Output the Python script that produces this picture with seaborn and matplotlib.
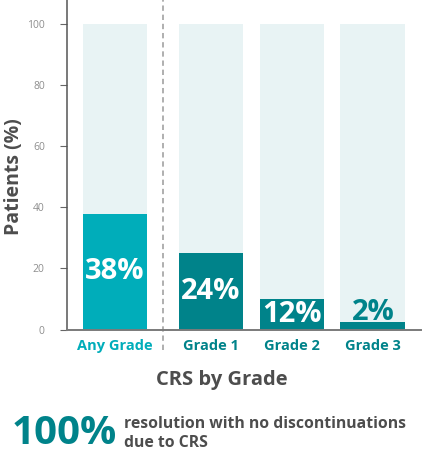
import numpy as np
import pandas as pd
import seaborn as sns
import matplotlib.pyplot as plt

# values
categories = ["Any Grade", "Grade 1", "Grade 2", "Grade 3"]
bar_heights = [37.7, 25.0, 10.1, 2.4]
value_labels = ["38%", "24%", "12%", "2%"]
full_scale = [100, 100, 100, 100]
y_ticks = [0, 20, 40, 60, 80, 100]

# colours
cyan = "#00ADBA"
teal = "#00838A"
track = "#E8F3F4"
dark_text = "#4D4D4D"
bar_colors = [cyan, teal, teal, teal]

sns.set_style("white")
plt.rcParams["font.family"] = ["Open Sans", "DejaVu Sans"]

# first bar stands apart, the grades are grouped after a gap
gap = 0.185
positions = [0.0] + [1.0 + gap + i for i in range(len(categories) - 1)]
sep_x = 0.593

df = pd.DataFrame({"pos": positions, "cat": categories,
                   "value": bar_heights, "full": full_scale})

fig = plt.figure(figsize=(4.22, 4.54), dpi=100)
ax = fig.add_axes([67 / 422, 124.5 / 454, (421 - 67) / 422, 329.5 / 454])

sns.barplot(data=df, x="pos", y="full", native_scale=True, color=track,
            saturation=1, width=0.8, linewidth=0, errorbar=None, ax=ax)
sns.barplot(data=df, x="pos", y="value", hue="cat", palette=bar_colors,
            native_scale=True, saturation=1, width=0.8, linewidth=0,
            errorbar=None, dodge=False, legend=False, ax=ax)

# value labels
for p, h, lab in zip(positions, bar_heights, value_labels):
    if h > 8:
        ax.text(p, h / 2, lab, ha="center", va="center", color="white",
                fontsize=21, fontweight="bold")
    else:
        ax.text(p, h + 0.7, lab, ha="center", va="baseline", color=teal,
                fontsize=21, fontweight="bold")

ax.set_xlim(-0.593, 3.78)
ax.set_ylim(0, 107.7)

# dashed separator
ax.vlines(sep_x, -6.7, 107.7, colors="#9A9A9A", linestyles=(0, (3.5, 2.5)),
          linewidth=1.1, clip_on=False)

ax.set_yticks(y_ticks)
ax.set_yticklabels([str(t) for t in y_ticks], fontsize=7.5, color="#8E8E8E")
ax.tick_params(axis="y", length=5, width=0.8, color="#666666", pad=11, left=True)

ax.set_xticks(positions)
ax.set_xticklabels(categories, fontsize=10.5, fontweight="bold")
for lbl, c in zip(ax.get_xticklabels(), bar_colors):
    lbl.set_color(c)
ax.tick_params(axis="x", length=0, pad=7)

sns.despine(ax=ax)
ax.spines["left"].set_color("#555555")
ax.spines["left"].set_linewidth(1.1)
ax.spines["bottom"].set_color("#7A7A7A")
ax.spines["bottom"].set_linewidth(1.4)

ax.set_xlabel("")
ax.set_ylabel("")
fig.text(14.5 / 422, 1 - 177 / 454, "Patients (%)", rotation=90, ha="center",
         va="center", fontsize=14, fontweight="bold", color=dark_text)
fig.text(222 / 422, 1 - 380 / 454, "CRS by Grade", ha="center", va="center",
         fontsize=14.5, fontweight="bold", color=dark_text)

fig.text(12 / 422, 1 - 434 / 454, "100%", ha="left", va="center",
         fontsize=29, fontweight="bold", color=teal)
fig.text(124 / 422, 1 - 433.5 / 454,
         "resolution with no discontinuations\ndue to CRS", ha="left",
         va="center", fontsize=11.3, fontweight="bold", color=dark_text,
         linespacing=1.3)

fig.savefig("out.png", dpi=100)
